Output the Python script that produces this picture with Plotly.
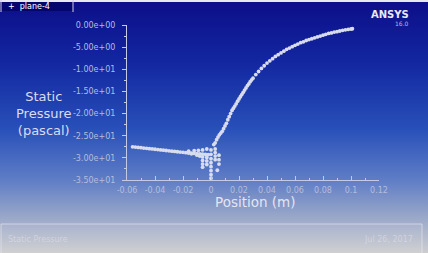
import base64
import plotly.graph_objects as go

# ---- data ----
right_x = [0.002, 0.003, 0.004, 0.005, 0.006, 0.007, 0.008, 0.009, 0.010, 0.011, 0.012, 0.013, 0.014,
           0.015, 0.016, 0.017, 0.018, 0.019, 0.020, 0.021, 0.022, 0.023, 0.024, 0.025, 0.026, 0.027,
           0.028, 0.029, 0.030, 0.032, 0.034, 0.036, 0.038, 0.040, 0.042, 0.044, 0.046, 0.048, 0.050,
           0.052, 0.054, 0.056, 0.058, 0.060, 0.062, 0.064, 0.066, 0.068, 0.070, 0.072, 0.074, 0.076,
           0.078, 0.080, 0.082, 0.084, 0.086, 0.088, 0.090, 0.092, 0.094, 0.096, 0.098, 0.100, 0.101]
right_p = [-27.0, -26.6, -25.9, -25.3, -24.8, -24.4, -24.0, -23.4, -22.8, -22.2, -21.4, -20.7, -20.0,
           -19.3, -18.8, -18.3, -17.8, -17.2, -16.7, -16.2, -15.7, -15.2, -14.7, -14.2, -13.7, -13.3,
           -12.8, -12.4, -12.0, -11.2, -10.5, -9.8, -9.2, -8.6, -8.1, -7.6, -7.1, -6.7, -6.3,
           -5.9, -5.5, -5.2, -4.9, -4.6, -4.3, -4.0, -3.8, -3.5, -3.3, -3.1, -2.9, -2.7,
           -2.5, -2.3, -2.1, -1.9, -1.8, -1.6, -1.5, -1.35, -1.2, -1.1, -1.0, -0.9, -0.85]

left_x = [-0.056, -0.054, -0.052, -0.050, -0.048, -0.046, -0.044, -0.042, -0.040, -0.038, -0.036,
          -0.034, -0.032, -0.030, -0.028, -0.026, -0.024, -0.022, -0.020, -0.018, -0.016, -0.014,
          -0.012, -0.010, -0.008, -0.006, -0.004, -0.002]
left_p = [-27.50, -27.57, -27.64, -27.71, -27.78, -27.85, -27.92, -27.99, -28.06, -28.13, -28.20,
          -28.27, -28.34, -28.41, -28.48, -28.55, -28.62, -28.69, -28.76, -28.83, -28.90, -28.95,
          -29.00, -29.05, -29.10, -29.15, -29.20, -29.25]

fan_x = [-0.016, -0.012, -0.009, -0.006, -0.003,
         -0.014, -0.010, -0.008,
         -0.006, -0.006, -0.006, -0.006,
         -0.003, -0.003, -0.003,
         0.000, 0.000, 0.000, 0.000, 0.000, 0.000, 0.000, 0.000,
         0.003, 0.003, 0.003, 0.003,
         0.0057, 0.0057, 0.0057, 0.0045]
fan_p = [-28.5, -28.4, -28.3, -28.2, -28.0,
         -29.1, -29.4, -29.6,
         -29.8, -30.6, -31.4, -32.1,
         -29.9, -30.7, -31.5,
         -28.2, -29.2, -30.2, -31.1, -32.0, -32.9, -33.8, -34.6,
         -28.0, -28.8, -29.6, -30.4,
         -29.4, -30.4, -31.4, -32.8]

y_tickvals = [0, -5, -10, -15, -20, -25, -30, -35]
y_ticktext = ["0.00e+00", "-5.00e+00", "-1.00e+01", "-1.50e+01", "-2.00e+01", "-2.50e+01",
              "-3.00e+01", "-3.50e+01"]
x_tickvals = [-0.06, -0.04, -0.02, 0, 0.02, 0.04, 0.06, 0.08, 0.1, 0.12]
x_ticktext = ["-0.06", "-0.04", "-0.02", "0", "0.02", "0.04", "0.06", "0.08", "0.1", "0.12"]

# ---- figure ----
W, H = 428, 253
fig = go.Figure()
mk = dict(color="#d8dcec", size=3.8)
for xs, ys in [(left_x, left_p), (fan_x, fan_p), (right_x, right_p)]:
    fig.add_trace(go.Scatter(x=xs, y=ys, mode="markers", marker=mk, showlegend=False, hoverinfo="skip"))

# background gradient as an inline SVG image
svg = (
    "<svg xmlns='http://www.w3.org/2000/svg' width='428' height='253' preserveAspectRatio='none'>"
    "<defs><linearGradient id='g' x1='0' y1='0' x2='0' y2='1'>"
    "<stop offset='0' stop-color='rgb(12,14,136)'/>"
    "<stop offset='0.24' stop-color='rgb(18,38,160)'/>"
    "<stop offset='0.51' stop-color='rgb(40,80,185)'/>"
    "<stop offset='0.71' stop-color='rgb(95,125,198)'/>"
    "<stop offset='0.85' stop-color='rgb(150,165,200)'/>"
    "<stop offset='1' stop-color='rgb(205,205,208)'/>"
    "</linearGradient></defs><rect x='0' y='0' width='428' height='253' fill='url(#g)'/></svg>"
)
src = "data:image/svg+xml;base64," + base64.b64encode(svg.encode()).decode()
images = [dict(source=src, xref="paper", yref="paper", x=0, y=1, sizex=1, sizey=1,
               xanchor="left", yanchor="top", sizing="stretch", layer="below")]

shapes = []
shapes.append(dict(type="rect", xref="paper", yref="paper", x0=0, x1=1, y0=1 - 2 / H, y1=1,
                   fillcolor="#e8e8f0", line=dict(width=0), layer="below"))
shapes.append(dict(type="rect", xref="paper", yref="paper", x0=0, x1=73 / W, y0=1 - 11 / H, y1=1 - 2 / H,
                   fillcolor="#05056e", line=dict(width=0), layer="below"))
shapes.append(dict(type="line", xref="paper", yref="paper", x0=73 / W, x1=73 / W, y0=1 - 12 / H, y1=1,
                   line=dict(color="#d0d0e0", width=1), layer="below"))
shapes.append(dict(type="line", xref="paper", yref="paper", x0=1 / W, x1=1 / W, y0=1 - 12 / H, y1=1,
                   line=dict(color="#d0d0e0", width=1), layer="below"))
shapes.append(dict(type="rect", xref="paper", yref="paper", x0=1 / W, x1=(W - 6) / W, y0=-0.01, y1=1 - 224 / H,
                   fillcolor="rgba(255,255,255,0.06)", line=dict(color="rgba(235,235,245,0.6)", width=1),
                   layer="below"))

def A(text, x, y, size, color, xa="center"):
    return dict(text=text, x=x / W, y=1 - y / H, xref="paper", yref="paper", xanchor=xa, yanchor="middle",
                showarrow=False, align="center", font=dict(size=size, color=color, family="DejaVu Sans"))

ann = [
    A("Static<br>Pressure<br>(pascal)", 44, 113, 13, "#dcdcee"),
    A("Position (m)", 256, 202, 13.5, "#e4e4f0"),
    A("+  plane-4", 6, 6.5, 8, "#ffffff", xa="left"),
    A("<b>ANSYS</b>", 411, 15, 10, "#e8e8f4", xa="right"),
    A("16.0", 411, 23, 6, "#b8bce0", xa="right"),
    A("Static Pressure", 6, 239, 8, "rgba(235,235,245,0.45)", xa="left"),
    A("Jul 26, 2017", 415, 239, 8, "rgba(235,235,245,0.45)", xa="right"),
]

axcol = "#c4cae6"
fig.update_layout(
    width=W, height=H, margin=dict(l=0, r=0, t=0, b=0, autoexpand=False),
    paper_bgcolor="rgba(0,0,0,0)", plot_bgcolor="rgba(0,0,0,0)",
    shapes=shapes, annotations=ann, images=images,
    xaxis=dict(domain=[127 / W, 379 / W], range=[-0.06, 0.12], tickvals=x_tickvals, ticktext=x_ticktext,
               showgrid=False, zeroline=False, showline=True, linecolor=axcol, linewidth=1,
               ticks="inside", ticklen=4, tickcolor=axcol, automargin=False, ticklabelstandoff=2,
               minor=dict(dtick=0.01, tick0=0, ticks="inside", ticklen=2, tickcolor=axcol),
               tickfont=dict(size=8, color="#b4bcdc", family="DejaVu Sans")),
    yaxis=dict(domain=[1 - 180 / H, 1 - 25 / H], range=[-35, 0], tickvals=y_tickvals, ticktext=y_ticktext,
               showgrid=False, zeroline=False, showline=True, linecolor=axcol, linewidth=1,
               ticks="outside", ticklen=4, tickcolor=axcol, automargin=False, ticklabelstandoff=5,
               minor=dict(dtick=2.5, tick0=0, ticks="outside", ticklen=2, tickcolor=axcol),
               tickfont=dict(size=8, color="#b4bcdc", family="DejaVu Sans")),
)
fig.write_html("out.html")
